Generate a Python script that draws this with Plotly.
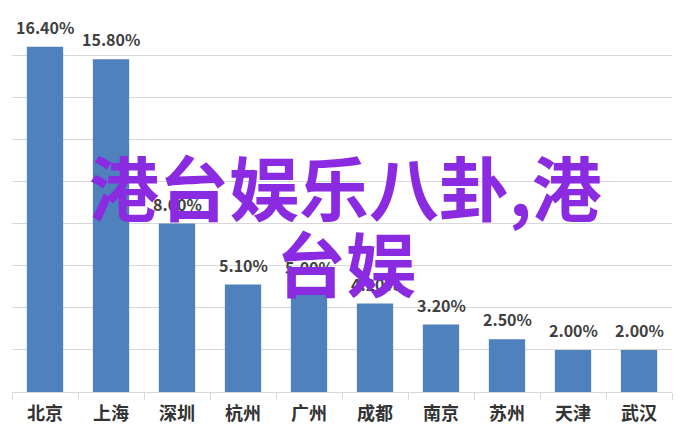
import plotly.graph_objects as go

cities = ["北京", "上海", "深圳", "杭州", "广州", "成都", "南京", "苏州", "天津", "武汉"]
values = [16.4, 15.8, 8.0, 5.1, 5.0, 4.2, 3.2, 2.5, 2.0, 2.0]
labels = [f"{v:.2f}%" for v in values]
watermark_line1 = "港台娱乐八卦,港"
watermark_line2 = "台娱"

fig = go.Figure(go.Bar(
    x=cities, y=values,
    marker=dict(color="#4f81bd", line=dict(width=0)),
    width=0.55,
))

label_annotations = [
    dict(x=c, y=v, text=t, xref="x", yref="y", xanchor="center", yanchor="bottom",
         yshift=6, showarrow=False,
         font=dict(family="Noto Sans CJK SC", size=16, color="#404040", weight="bold"))
    for c, v, t in zip(cities, values, labels)
]

watermark_font = dict(family="Noto Sans CJK SC", size=70, color="#8a2be2", weight="bold")
watermark_annotations = [
    dict(text=watermark_line1, xref="paper", yref="paper", x=0.506, y=0.546,
         xanchor="center", yanchor="middle", showarrow=False, font=watermark_font),
    dict(text=watermark_line2, xref="paper", yref="paper", x=0.506, y=0.345,
         xanchor="center", yanchor="middle", showarrow=False, font=watermark_font),
]

# the page body has an 8px default margin, so the figure is offset by (8, 8)
fig.update_layout(
    width=678, height=431,
    margin=dict(l=4, r=14, t=5, b=47),
    paper_bgcolor="white", plot_bgcolor="white",
    showlegend=False,
    font=dict(family="Noto Sans CJK SC"),
    xaxis=dict(
        type="category", showgrid=False, showline=True, linecolor="#d9d9d9", linewidth=1,
        ticks="outside", tickson="boundaries", ticklen=7, tickcolor="#d9d9d9",
        tickfont=dict(family="Noto Sans CJK SC", size=18, color="#333333", weight="bold"),
        ticklabelstandoff=5,
        automargin=False,
    ),
    yaxis=dict(
        range=[0, 18], dtick=2, showticklabels=False, showgrid=True,
        gridcolor="#d9d9d9", gridwidth=1, zeroline=False, showline=False,
        automargin=False,
    ),
    annotations=label_annotations + watermark_annotations,
)

fig.write_html("out.html")
